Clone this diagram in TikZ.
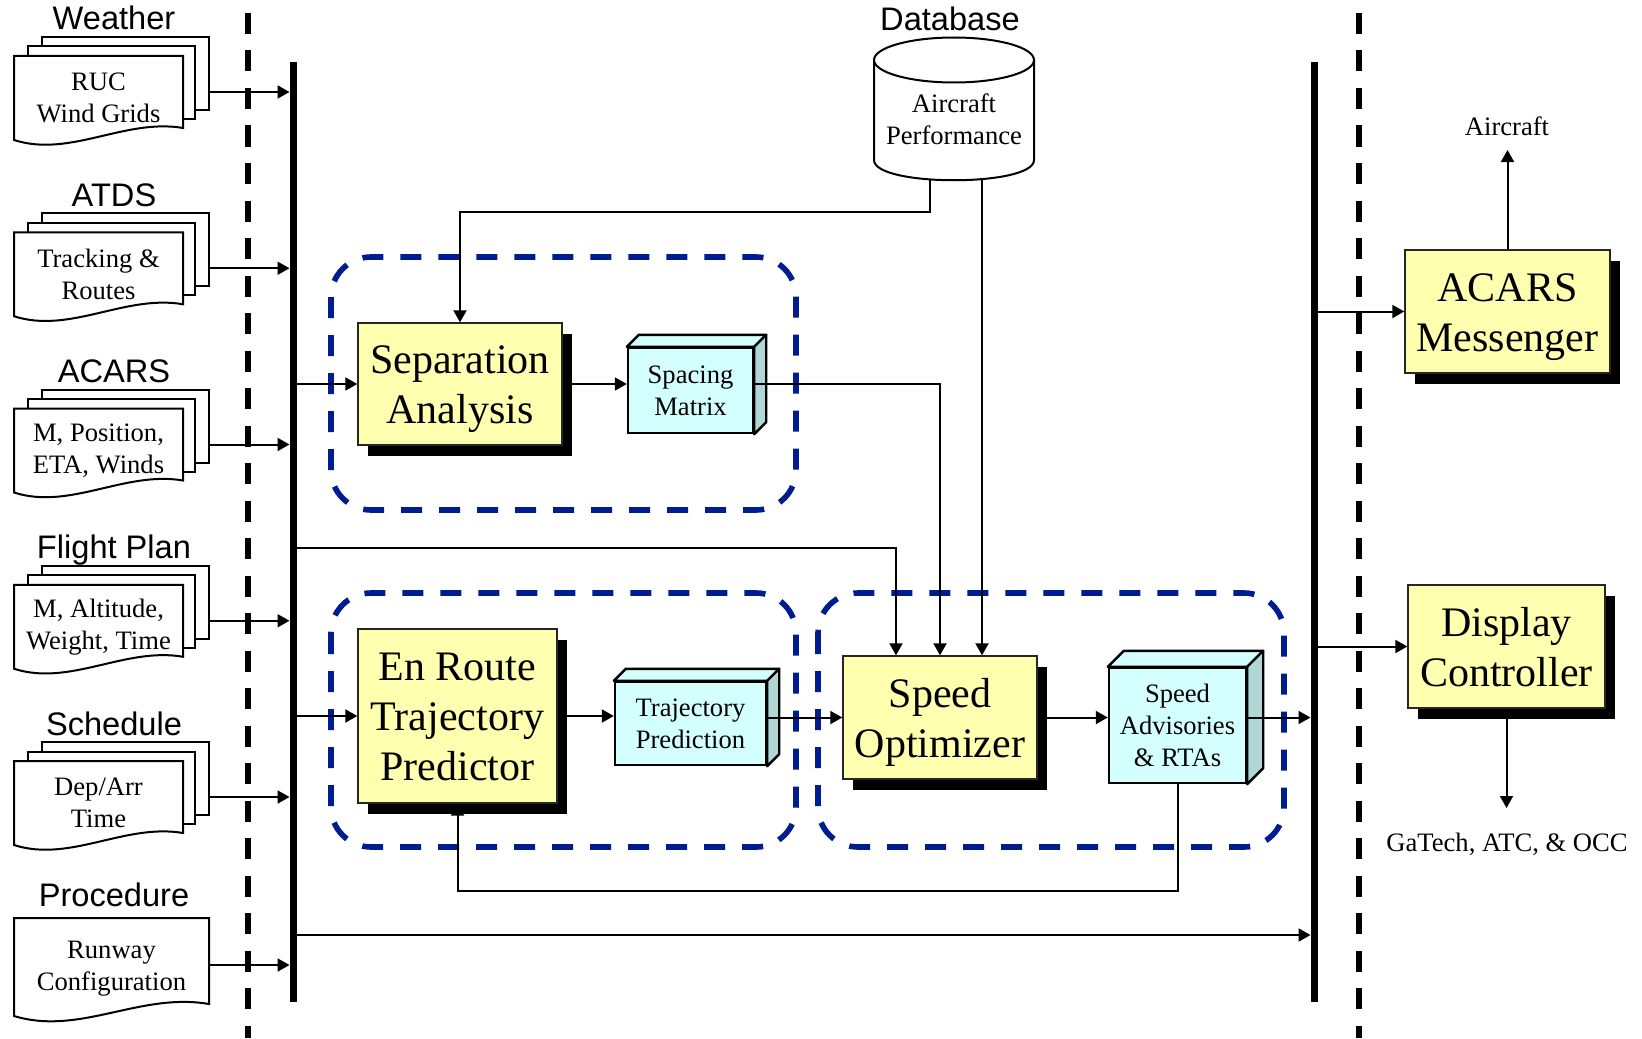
\documentclass[tikz,border=0pt]{standalone}
\usepackage{fontspec}
\setmainfont{Liberation Serif}
\newfontfamily\lblfont{Liberation Sans}
\usetikzlibrary{arrows.meta,shadows,calc}
\definecolor{boxyel}{RGB}{255,255,176}
\definecolor{cubefront}{RGB}{212,255,255}
\definecolor{cubeside}{RGB}{176,214,214}
\definecolor{grpblue}{RGB}{0,28,145}
\newcommand\tstrut{\rule{0pt}{19.5pt}}
\newcommand\bstrut{\rule[-5pt]{0pt}{0pt}}
\tikzset{
  arr/.style={line width=1pt,-{Triangle[length=6pt,width=6.5pt]}},
  bigbox/.style={draw=black!85,line width=0.7pt,fill=boxyel,align=center,
    font=\fontsize{21}{25}\selectfont,inner sep=0pt,
    drop shadow={shadow xshift=5pt,shadow yshift=-5.5pt,fill=black,opacity=1}},
  cubebox/.style={draw=black,line width=1.2pt,fill=cubefront,align=center,
    font=\fontsize{13.3}{16}\selectfont,inner sep=0pt},
  cubeface/.style={draw=black,line width=1.2pt,line join=round},
  docpage/.style={draw=black,line width=1pt,fill=white},
  smalltext/.style={align=center,font=\fontsize{13.3}{16}\selectfont,inner sep=0pt},
  srclabel/.style={font=\lblfont\fontsize{16.3}{19}\selectfont,anchor=base,inner sep=0pt},
  grpbox/.style={draw=grpblue,line width=2.8pt,dash pattern=on 10.5pt off 8.5pt,rounded corners=20pt},
  busline/.style={line width=3.5pt},
  divline/.style={line width=3pt,dash pattern=on 10.5pt off 8.25pt},
}
\newcommand\docstack[4]{%
  \draw[docpage] (42,#1-19) rectangle (209,#1+54);
  \draw[docpage] (28,#1-9.5) rectangle (195,#1+63);
  \draw[docpage] (14,#1) -- (183,#1) -- (183,#1+72) .. controls (125,#1+62) and (70,#1+102) .. (14,#1+84) -- cycle;
  \node[smalltext] (#2) at (98.5,#1+42) {#4};
  \node[srclabel] (#2lbl) at (114,#1-26) {#3};
  \coordinate (#2out) at (209,#1+36);
}
\newcommand\cubefaces[2]{%
  \draw[cubeface,fill=cubefront] (#1.north west) -- ++(#2,-#2) -- ($(#1.north east)+(#2,-#2)$) -- (#1.north east) -- cycle;
  \draw[cubeface,fill=cubeside] (#1.north east) -- ++(#2,-#2) -- ($(#1.south east)+(#2,-#2)$) -- (#1.south east) -- cycle;
}
\begin{document}
\begin{tikzpicture}[x=0.5pt,y=-0.5pt]
\useasboundingbox (0,0) rectangle (1642,1038);

% dividers and buses
\draw[divline] (248,13) -- (248,1038);
\draw[divline] (1359,13) -- (1359,1038);
\draw[busline] (293,62) -- (293,1002);
\draw[busline] (1314,62) -- (1314,1002);
\coordinate (bLl) at (289.5,0);
\coordinate (bLr) at (296.5,0);
\coordinate (bRl) at (1310.5,0);
\coordinate (bRr) at (1317.5,0);

% groups
\draw[grpbox] (331,257) rectangle (796,510);
\draw[grpbox] (331,593) rectangle (796,847);
\draw[grpbox] (818,593) rectangle (1284,847);

% sources
\docstack{56}{wx}{Weather}{RUC\\Wind Grids}
\docstack{232.25}{atds}{ATDS}{Tracking \&\\Routes}
\docstack{408.5}{acs}{ACARS}{M, Position,\\ETA, Winds}
\docstack{584.75}{fp}{Flight Plan}{M, Altitude,\\Weight, Time}
\docstack{761}{sch}{Schedule}{Dep/Arr\\Time}
\draw[docpage] (14,918) -- (209,918) -- (209,1004) .. controls (140,992) and (80,1036) .. (14,1016) -- cycle;
\node[smalltext] (proc) at (111.5,969) {Runway\\Configuration};
\node[srclabel] (proclbl) at (114,906) {Procedure};
\coordinate (procout) at (209,965);

% database
\draw[line width=1pt,fill=white] (874,60) -- (874,160) .. controls (874,187) and (1034,187) .. (1034,160) -- (1034,60);
\draw[line width=1pt,fill=white] (954,60) ellipse [x radius=80,y radius=22.5];
\node[smalltext] (db) at (954,119) {Aircraft\\Performance};
\node[srclabel] (dblbl) at (950,31) {Database};
\coordinate (dbL) at (930,179);
\coordinate (dbR) at (982,178.5);
\coordinate (dbturn) at (0,212);

% main boxes
\node[bigbox,minimum width=102pt,minimum height=61pt] (sep) at (460,384) {\tstrut Separation\\Analysis\bstrut};
\node[cubebox,minimum width=62.5pt,minimum height=42.5pt] (spm) at (690.5,390.5) {Spacing\\Matrix};
\cubefaces{spm}{12}
\node[bigbox,minimum width=99.5pt,minimum height=87pt] (er) at (457.5,716) {\tstrut En Route\\Trajectory\\Predictor\bstrut};
\node[cubebox,minimum width=75.5pt,minimum height=41.5pt] (tp) at (690.5,723.5) {Trajectory\\Prediction};
\cubefaces{tp}{12}
\node[bigbox,minimum width=97pt,minimum height=61.5pt] (so) at (940,717.5) {\tstrut Speed\\Optimizer\bstrut};
\node[cubebox,minimum width=68.5pt,minimum height=57.5pt] (adv) at (1177.5,725.5) {Speed\\Advisories\\\& RTAs};
\cubefaces{adv}{16}
\node[bigbox,minimum width=102.5pt,minimum height=61.5pt] (acars) at (1507.5,311.5) {\tstrut ACARS\\Messenger\bstrut};
\node[bigbox,minimum width=98.5pt,minimum height=61.5pt] (disp) at (1506.5,646.5) {\tstrut Display\\Controller\bstrut};
\node[smalltext] (aclbl) at (1507,126) {Aircraft};
\node[smalltext] (gtlbl) at (1507,844) {GaTech, ATC, \& OCC};
\coordinate (acTip) at (0,150);
\coordinate (dispTip) at (0,808);
\coordinate (row548) at (0,548);
\coordinate (row935) at (0,935);
\coordinate (soin) at ($(so.north)+(-44,0)$);

% connectors
\foreach \s in {wx,atds,acs,fp,sch,proc}
  \draw[arr] (\s out) -- (\s out -| bLl);
\draw[arr] (bLr |- sep.west) -- (sep.west);
\draw[arr] (bLr |- er.west) -- (er.west);
\draw[arr] (bLr |- row548) -| (soin);
\draw[arr] (bLr |- row935) -- (bRl |- row935);
\draw[arr] (sep.east) -- (sep.east -| spm.west);
\draw[arr] (sep.east -| spm.east) -| (so.north);
\draw[arr] (dbL) |- (sep.north |- dbturn) -- (sep.north);
\draw[arr] (dbR) -- (dbR |- so.north);
\draw[arr] (er.east) -- (er.east -| tp.west);
\draw[arr] (tp.east |- so.west) -- (so.west);
\draw[arr] (so.east) -- (so.east -| adv.west);
\draw[arr] (adv.east |- so.east) -- (bRl |- so.east);
\draw[arr] (adv.south) -- ++(0,107) -| (er.south);
\draw[arr] (bRr |- acars.west) -- (acars.west);
\draw[arr] (bRr |- disp.west) -- (disp.west);
\draw[arr] (acars.north) -- (acars.north |- acTip);
\draw[arr] (disp.south) -- (disp.south |- dispTip);
\end{tikzpicture}
\end{document}
